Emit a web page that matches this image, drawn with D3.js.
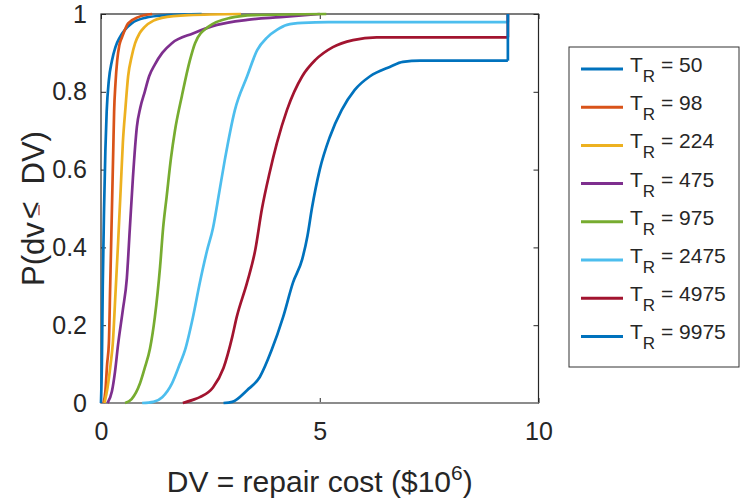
<!DOCTYPE html>
<html>
<head>
<meta charset="utf-8">
<script src="https://cdn.jsdelivr.net/npm/d3@7"></script>
<style>
  body { margin: 0; background: #fff; }
  text { font-family: "Liberation Sans", Arial, sans-serif; fill: #262626; }
</style>
</head>
<body>
<div id="app"></div>
<script>
const WIDTH = 740
const HEIGHT = 504

// return periods for the legend
const periods = [50, 98, 224, 475, 975, 2475, 4975, 9975]
const colors = ['#0072BD', '#D95319', '#EDB120', '#7E2F8E', '#77AC30', '#4DBEEE', '#A2142F', '#0072BD']

// empirical CDFs, [repair cost ($10^6), P]
const cdf50 = [[0,0],[0.02,0.1],[0.04,0.3],[0.07,0.5],[0.1,0.65],[0.13,0.75],[0.18,0.83],[0.25,0.88],[0.33,0.915],[0.43,0.94],[0.55,0.96],[0.7,0.976],[1.0,0.99],[1.5,0.997],[2.3,1]]
const cdf98 = [[0.06,0],[0.1,0.03],[0.14,0.1],[0.18,0.154],[0.21,0.3],[0.25,0.5],[0.28,0.65],[0.30,0.75],[0.33,0.82],[0.37,0.88],[0.42,0.92],[0.48,0.94],[0.62,0.976],[0.85,0.992],[1.17,1]]
const cdf224 = [[0.08,0],[0.15,0.04],[0.22,0.1],[0.27,0.154],[0.33,0.28],[0.39,0.41],[0.45,0.55],[0.5,0.67],[0.56,0.76],[0.62,0.84],[0.7,0.89],[0.78,0.925],[0.88,0.95],[1.0,0.967],[1.2,0.983],[1.39,0.99],[2.0,0.997],[3.2,1]]
const cdf475 = [[0.15,0],[0.25,0.03],[0.32,0.08],[0.39,0.15],[0.5,0.24],[0.59,0.32],[0.66,0.45],[0.73,0.58],[0.82,0.71],[0.9,0.76],[1.0,0.8],[1.1,0.84],[1.23,0.87],[1.4,0.9],[1.62,0.925],[2.1,0.95],[2.65,0.972],[3.34,0.985],[4.1,0.992],[5.0,1]]
const cdf975 = [[0.55,0],[0.7,0.01],[0.89,0.05],[1.0,0.09],[1.12,0.14],[1.23,0.22],[1.35,0.35],[1.42,0.45],[1.5,0.53],[1.6,0.63],[1.69,0.7],[1.85,0.79],[2.03,0.88],[2.15,0.925],[2.45,0.967],[2.95,0.99],[3.5,0.997],[5.15,1]]
const cdf2475 = [[0.94,0],[1.2,0.003],[1.4,0.015],[1.62,0.05],[1.8,0.1],[1.92,0.136],[2.1,0.22],[2.26,0.31],[2.42,0.39],[2.56,0.45],[2.7,0.54],[2.83,0.625],[3.06,0.753],[3.34,0.84],[3.57,0.907],[3.8,0.94],[4.02,0.959],[4.25,0.972],[4.6,0.977],[5.2,0.979],[9.3,0.979],[9.3,1]]
const cdf4975 = [[1.87,0],[2.1,0.008],[2.26,0.015],[2.56,0.04],[2.8,0.09],[3.0,0.17],[3.1,0.22],[3.34,0.31],[3.52,0.39],[3.68,0.5],[3.85,0.59],[4.02,0.668],[4.25,0.753],[4.6,0.84],[4.9,0.882],[5.3,0.915],[5.76,0.933],[6.3,0.94],[9.3,0.94],[9.3,1]]
const cdf9975 = [[2.8,0],[3.0,0.003],[3.34,0.033],[3.63,0.067],[3.9,0.136],[4.16,0.22],[4.39,0.31],[4.6,0.37],[4.72,0.43],[4.82,0.5],[5.0,0.6],[5.23,0.684],[5.5,0.753],[5.8,0.805],[6.15,0.84],[6.6,0.864],[6.9,0.877],[7.3,0.88],[9.3,0.88],[9.3,1]]

const curves = [cdf50, cdf98, cdf224, cdf475, cdf975, cdf2475, cdf4975, cdf9975]

const xTicks = [0, 5, 10]
const yTicks = [0, 0.2, 0.4, 0.6, 0.8, 1]

const x = d3.scaleLinear().domain([0, 10]).range([101, 538.5])
const y = d3.scaleLinear().domain([0, 1]).range([403, 14])

const svg = d3.select('#app').append('svg')
  .attr('width', WIDTH)
  .attr('height', HEIGHT)

// axes box, MATLAB style with inward ticks on all sides
const axisColor = '#262626'
const tickLen = 5
const fontFamily = '"Liberation Sans", Arial, sans-serif'

svg.append('g')
  .attr('transform', `translate(0, ${y(0)})`)
  .call(d3.axisBottom(x).tickValues(xTicks).tickSizeInner(-tickLen).tickSizeOuter(0).tickPadding(19).tickFormat(d3.format('d')))
  .call(g => g.select('.domain').remove())
  .call(g => g.selectAll('.tick line').attr('stroke', axisColor))
  .call(g => g.selectAll('.tick text').attr('font-size', 25).attr('fill', axisColor).attr('font-family', fontFamily))

svg.append('g')
  .attr('transform', `translate(0, ${y(1)})`)
  .call(d3.axisTop(x).tickValues(xTicks).tickSizeInner(-tickLen).tickSizeOuter(0).tickFormat(''))
  .call(g => g.select('.domain').remove())
  .call(g => g.selectAll('.tick line').attr('stroke', axisColor))

svg.append('g')
  .attr('transform', `translate(${x(0)}, 0)`)
  .call(d3.axisLeft(y).tickValues(yTicks).tickSizeInner(-tickLen).tickSizeOuter(0).tickPadding(14)
    .tickFormat(d => d === 0 || d === 1 ? d3.format('d')(d) : d3.format('.1f')(d)))
  .call(g => g.select('.domain').remove())
  .call(g => g.selectAll('.tick line').attr('stroke', axisColor))
  .call(g => g.selectAll('.tick text').attr('font-size', 25).attr('fill', axisColor).attr('font-family', fontFamily))

svg.append('g')
  .attr('transform', `translate(${x(10)}, 0)`)
  .call(d3.axisRight(y).tickValues(yTicks).tickSizeInner(-tickLen).tickSizeOuter(0).tickFormat(''))
  .call(g => g.select('.domain').remove())
  .call(g => g.selectAll('.tick line').attr('stroke', axisColor))

svg.append('rect')
  .attr('x', x(0))
  .attr('y', y(1))
  .attr('width', x(10) - x(0))
  .attr('height', y(0) - y(1))
  .attr('fill', 'none')
  .attr('stroke', axisColor)
  .attr('stroke-width', 1.2)

svg.append('line')
  .attr('x1', x(0)).attr('x2', x(10))
  .attr('y1', y(0)).attr('y2', y(0))
  .attr('stroke', '#8c8c8c')
  .attr('stroke-width', 2.2)

// curves: smooth body, then the jump to 1 at the replacement cost
const smooth = d3.line()
  .x(d => x(d[0]))
  .y(d => y(d[1]))
  .curve(d3.curveMonotoneX)

const straight = d3.line()
  .x(d => x(d[0]))
  .y(d => y(d[1]))

const split = pts => {
  const n = pts.length
  if (n > 1 && pts[n - 1][0] === pts[n - 2][0]) return [pts.slice(0, n - 1), pts.slice(n - 2)]
  return [pts, []]
}

const curveG = svg.append('g')
  .selectAll('g')
  .data(curves)
  .enter()
.append('g')
  .attr('fill', 'none')
  .attr('stroke', (d, i) => colors[i])
  .attr('stroke-width', 2.7)
  .attr('stroke-linejoin', 'round')

curveG.append('path').attr('d', d => smooth(split(d)[0]))
curveG.filter(d => split(d)[1].length).append('path').attr('d', d => straight(split(d)[1]))

// axis labels
const xl = svg.append('text')
  .attr('x', x(5))
  .attr('y', 492)
  .attr('text-anchor', 'middle')
  .attr('font-size', 30)
xl.append('tspan').text('DV = repair cost ($10')
xl.append('tspan').attr('dy', -12).attr('font-size', 21).text('6')
xl.append('tspan').attr('dy', 12).text(')')

const yl = svg.append('g')
  .attr('transform', `translate(44, ${(y(0) + y(1)) / 2}) rotate(-90)`)

const ylText = yl.append('text')
  .attr('text-anchor', 'middle')
  .attr('font-size', 31)
ylText.append('tspan').text('P(dv')
ylText.append('tspan').attr('class', 'le').attr('dx', 3).attr('dy', -3).text('<')
ylText.append('tspan').attr('dx', 8).attr('dy', 3).text(' DV)')

const ext = ylText.select('.le').node().getExtentOfChar(0)
yl.append('line')
  .attr('x1', ext.x + 4).attr('x2', ext.x + ext.width - 4)
  .attr('y1', -5).attr('y2', -5)
  .attr('stroke', '#b5504a')
  .attr('stroke-width', 1.4)

// legend
const legend = svg.append('g')

legend.append('rect')
  .attr('x', 569)
  .attr('y', 47)
  .attr('width', 170)
  .attr('height', 320)
  .attr('fill', '#fff')
  .attr('stroke', '#333')
  .attr('stroke-width', 1)

const item = legend.selectAll('g.item')
  .data(periods)
  .enter()
.append('g')
  .attr('class', 'item')
  .attr('transform', (d, i) => `translate(0, ${69 + i * 38.2})`)

item.append('line')
  .attr('x1', 581).attr('x2', 623)
  .attr('stroke', (d, i) => colors[i])
  .attr('stroke-width', 3)

const lt = item.append('text')
  .attr('x', 630)
  .attr('y', 3)
  .attr('font-size', 21)
lt.append('tspan').text('T')
lt.append('tspan').attr('dy', 10).attr('font-size', 17).text('R')
lt.append('tspan').attr('dy', -10).text(d => ` = ${d}`)
</script>
</body>
</html>
